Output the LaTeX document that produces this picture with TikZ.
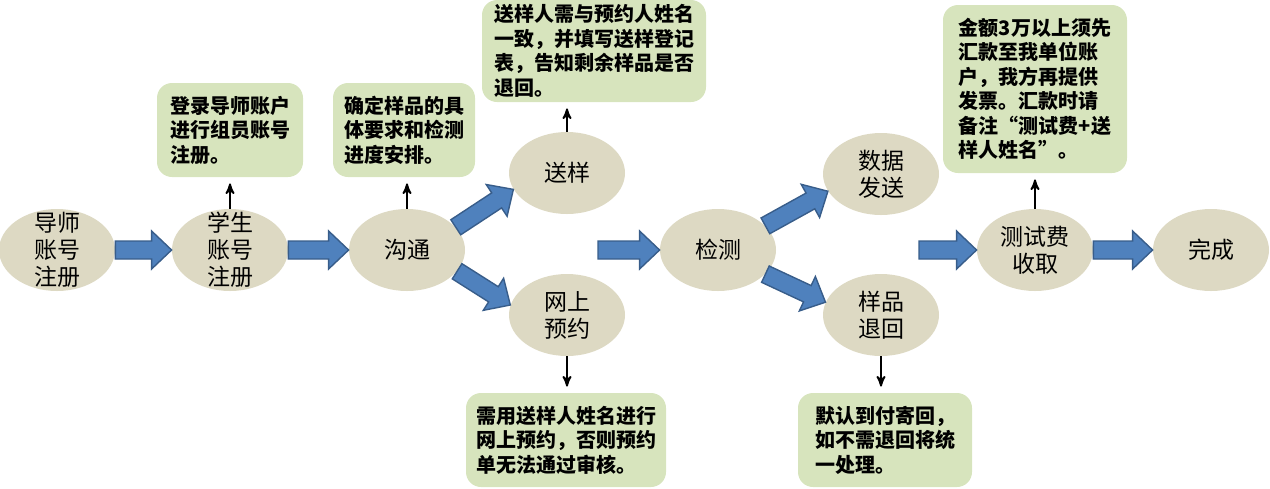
\documentclass[tikz,border=0pt]{standalone}
\usepackage{fontspec}
\newfontfamily\cjk{Noto Sans CJK SC}
\usetikzlibrary{arrows,shapes.geometric,calc}

\definecolor{stagefill}{RGB}{221,217,195}
\definecolor{notefill}{RGB}{215,228,189}
\definecolor{arrowfill}{RGB}{79,129,189}
\definecolor{arrowedge}{RGB}{56,93,138}

\tikzset{
  stage/.style={ellipse,fill=stagefill,minimum width=58pt,minimum height=41pt,
    inner xsep=0pt,inner ysep=-8pt,align=center,font=\cjk\fontsize{11.5}{13.5}\selectfont},
  note/.style={rounded corners=7.5pt,fill=notefill,inner sep=2pt,align=left,
    font=\cjk\bfseries\fontsize{10}{12.25}\selectfont},
  pointer/.style={line width=0.9pt,shorten >=3pt},
  blockarrow/.style={draw=arrowedge,fill=arrowfill,line width=0.7pt,
    to path={($(\tikztostart)!4.5pt!90:(\tikztotarget)$)
      -- ($($(\tikztotarget)!10pt!(\tikztostart)$)!4.5pt!90:(\tikztotarget)$)
      -- ($($(\tikztotarget)!10pt!(\tikztostart)$)!9.5pt!90:(\tikztotarget)$)
      -- (\tikztotarget)
      -- ($($(\tikztotarget)!10pt!(\tikztostart)$)!9.5pt!-90:(\tikztotarget)$)
      -- ($($(\tikztotarget)!10pt!(\tikztostart)$)!4.5pt!-90:(\tikztotarget)$)
      -- ($(\tikztostart)!4.5pt!-90:(\tikztotarget)$) -- cycle}}
}

\begin{document}
\begin{tikzpicture}[>=stealth',x=0.5pt,y=-0.5pt]
\useasboundingbox (0,0) rectangle (1270,488);

% main line
\node[stage] (ds) at (57,250) {导师\\账号\\注册};
\node[stage] (xs) [right of=ds, node distance=86.5pt] {学生\\账号\\注册};
\node[stage] (gt) [right of=xs, node distance=88.5pt] {沟通};
\node[stage] (jc) [right of=gt, node distance=155.5pt] {检测};
\node[stage] (sf) [right of=jc, node distance=158.5pt] {测试费\\收取};
\node[stage] (wc) [right of=sf, node distance=88pt] {完成};

% branches
\node[stage] (sy) at (567,173) {送样};
\node[stage] (yy) at (567,315) {网上\\预约};
\node[stage] (fs) at (881,174) {数据\\发送};
\node[stage] (th) at (881,315) {样品\\退回};

\coordinate (in1) at (598,250);
\coordinate (in2) at (919,250);

% notes
\node[note,minimum width=73pt,minimum height=47pt] (note1) at (230,130)
  {登录导师账户\\进行组员账号\\注册。};
\node[note,minimum width=71pt,minimum height=47pt] (note2) at (404,130)
  {确定样品的具\\体要求和检测\\进度安排。};
\node[note,minimum width=112pt,minimum height=51pt] (note3) at (594,51)
  {送样人需与预约人姓名\\一致，并填写送样登记\\表，告知剩余样品是否\\退回。};
\node[note,minimum width=100pt,minimum height=47pt] (note4) at (566,440)
  {需用送样人姓名进行\\网上预约，否则预约\\单无法通过审核。};
\node[note,minimum width=87pt,minimum height=47pt] (note5) at (885,440)
  {默认到付寄回，\\如不需退回将统\\一处理。};
\node[note,minimum width=92pt,minimum height=84pt] (note6) at (1035,89)
  {金额3万以上须先\\汇款至我单位账\\户，我方再提供\\发票。汇款时请\\备注“测试费+送\\样人姓名”。};

\path[blockarrow] (ds.east) to (xs.west)
                  (xs.east) to (gt.west)
                  (gt.25) to (sy.197)
                  (gt.337) to (yy.170)
                  (in1) to (jc.west)
                  (jc.27) to (fs.198)
                  (jc.333) to (th.167)
                  (in2) to (sf.west)
                  (sf.east) to (wc.west);

\path[->,pointer] (xs.north) edge (xs.north |- note1.south)
                  (gt.north) edge (gt.north |- note2.south)
                  (sy.north) edge (sy.north |- note3.south)
                  (yy.south) edge (yy.south |- note4.north)
                  (th.south) edge (th.south |- note5.north)
                  (sf.north) edge (sf.north |- note6.south);
\end{tikzpicture}
\end{document}
